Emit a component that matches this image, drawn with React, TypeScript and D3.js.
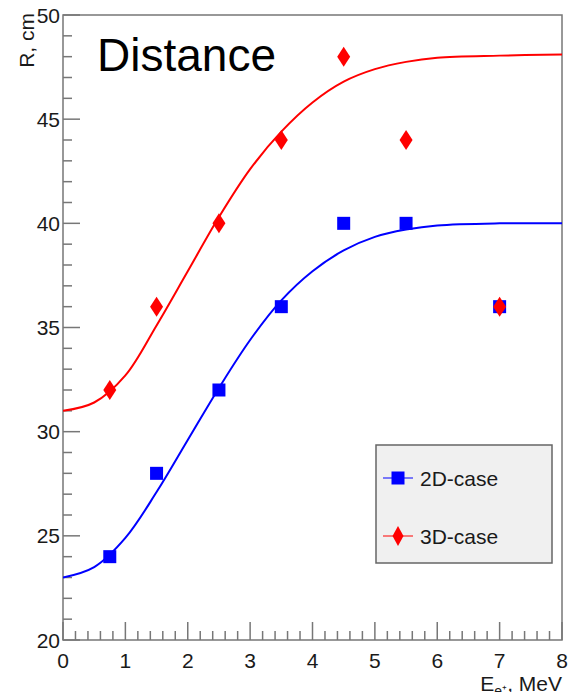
import React from "react";
import * as d3 from "d3";

// ---- data ----
const energies = [0.75, 1.5, 2.5, 3.5, 4.5, 5.5, 7];
const r2D = [24, 28, 32, 36, 40, 40, 36];
const r3D = [32, 36, 40, 44, 48, 44, 36];

// fitted curves
const fitX = [0, 0.5, 1, 1.5, 2, 2.5, 3, 3.5, 4, 4.5, 5, 5.5, 6, 7, 8];
const fit2D = [23.0, 23.5, 24.9, 27.1, 29.6, 32.1, 34.4, 36.3, 37.7, 38.7, 39.35, 39.7, 39.9, 40.0, 40.0];
const fit3D = [31.0, 31.4, 32.7, 35.1, 37.7, 40.3, 42.6, 44.4, 45.8, 46.8, 47.4, 47.75, 47.95, 48.05, 48.1];

const xTicks = [0, 1, 2, 3, 4, 5, 6, 7, 8];
const yTicks = [20, 25, 30, 35, 40, 45, 50];
const legendLabels = ["2D-case", "3D-case"];

const W = 568;
const H = 692;
const L = 63;
const R = 562;
const T = 15;
const B = 640;

const FONT = "'Liberation Sans', Arial, Helvetica, sans-serif";
const AX = "#777";

export default function App() {
  const x = d3.scaleLinear().domain([0, 8]).range([L, R]);
  const y = d3.scaleLinear().domain([20, 50]).range([B, T]);

  const mkLine = (vals: number[]) =>
    d3
      .line<number>()
      .x((_, i) => x(fitX[i]))
      .y((d) => y(d))
      .curve(d3.curveCatmullRom.alpha(0.5))(vals) || "";

  const path2D = mkLine(fit2D);
  const path3D = mkLine(fit3D);

  const xMinor = d3.range(0, 40).map((i) => i * 0.2).filter((v, i) => i % 5 !== 0);
  const yMinor = d3.range(20, 50).filter((v) => v % 5 !== 0);

  const sq = 13;
  const diamond = (cx: number, cy: number, w = 13, h = 20) =>
    `M${cx},${cy - h / 2} L${cx + w / 2},${cy} L${cx},${cy + h / 2} L${cx - w / 2},${cy} Z`;

  const legY = [478, 536];

  return (
    <div style={{ position: "fixed", left: 0, top: 0 }}>
      <svg width={W} height={H} style={{ display: "block", background: "#fff" }}>
        <defs>
          <clipPath id="plot">
            <rect x={L} y={T} width={R - L} height={B - T} />
          </clipPath>
        </defs>

        {/* frame */}
        <rect x={L} y={T} width={R - L} height={B - T} fill="none" stroke={AX} strokeWidth={1.5} />

        {/* y ticks */}
        {yTicks.map((v) => (
          <line key={"yt" + v} x1={L} x2={L + 17} y1={y(v)} y2={y(v)} stroke={AX} strokeWidth={1.5} />
        ))}
        {yMinor.map((v) => (
          <line key={"ym" + v} x1={L} x2={L + 9} y1={y(v)} y2={y(v)} stroke={AX} strokeWidth={1.5} />
        ))}
        {yTicks.map((v) => (
          <text key={"yl" + v} x={L - 3} y={y(v)} dy="0.36em" textAnchor="end" fontFamily={FONT} fontSize={21} fill="#1a1a1a">
            {v}
          </text>
        ))}

        {/* x ticks */}
        {xTicks.map((v) => (
          <line key={"xt" + v} x1={x(v)} x2={x(v)} y1={B} y2={B - 18} stroke={AX} strokeWidth={1.5} />
        ))}
        {xMinor.map((v) => (
          <line key={"xm" + v} x1={x(v)} x2={x(v)} y1={B} y2={B - 9} stroke={AX} strokeWidth={1.5} />
        ))}
        {xTicks.map((v) => (
          <text key={"xl" + v} x={x(v)} y={668} textAnchor="middle" fontFamily={FONT} fontSize={21} fill="#1a1a1a">
            {v}
          </text>
        ))}

        {/* axis titles */}
        <text x={R} y={691} textAnchor="end" fontFamily={FONT} fontSize={21} fill="#1a1a1a">
          E<tspan fontSize={14} dy={5}>e⁺</tspan>
          <tspan dy={-5}>, MeV</tspan>
        </text>
        <text
          transform={`translate(34,13) rotate(-90)`}
          textAnchor="end"
          fontFamily={FONT}
          fontSize={21}
          fill="#1a1a1a"
        >
          R, cm
        </text>

        {/* title */}
        <text x={97} y={71} fontFamily={FONT} fontSize={46} fill="#000">
          Distance
        </text>

        {/* curves */}
        <g clipPath="url(#plot)">
          <path d={path3D} fill="none" stroke="#ff0000" strokeWidth={2} />
          <path d={path2D} fill="none" stroke="#0000ff" strokeWidth={2} />
        </g>

        {/* points */}
        {energies.map((e, i) => (
          <rect key={"b" + i} x={x(e) - sq / 2} y={y(r2D[i]) - sq / 2} width={sq} height={sq} fill="#0000ff" />
        ))}
        {energies.map((e, i) => (
          <path key={"r" + i} d={diamond(x(e), y(r3D[i]))} fill="#ff0000" />
        ))}

        {/* legend */}
        <rect x={376} y={445} width={176} height={118} fill="#f0f0f0" stroke="#666" strokeWidth={1.5} />
        <line x1={383} x2={413} y1={legY[0]} y2={legY[0]} stroke="#0000ff" strokeWidth={1} />
        <rect x={398 - sq / 2} y={legY[0] - sq / 2} width={sq} height={sq} fill="#0000ff" />
        <line x1={383} x2={413} y1={legY[1]} y2={legY[1]} stroke="#ff0000" strokeWidth={1} />
        <path d={diamond(398, legY[1], 11, 20)} fill="#ff0000" />
        {legendLabels.map((s, i) => (
          <text key={s} x={420} y={legY[i]} dy="0.36em" fontFamily={FONT} fontSize={21} fill="#1a1a1a">
            {s}
          </text>
        ))}
      </svg>
    </div>
  );
}
